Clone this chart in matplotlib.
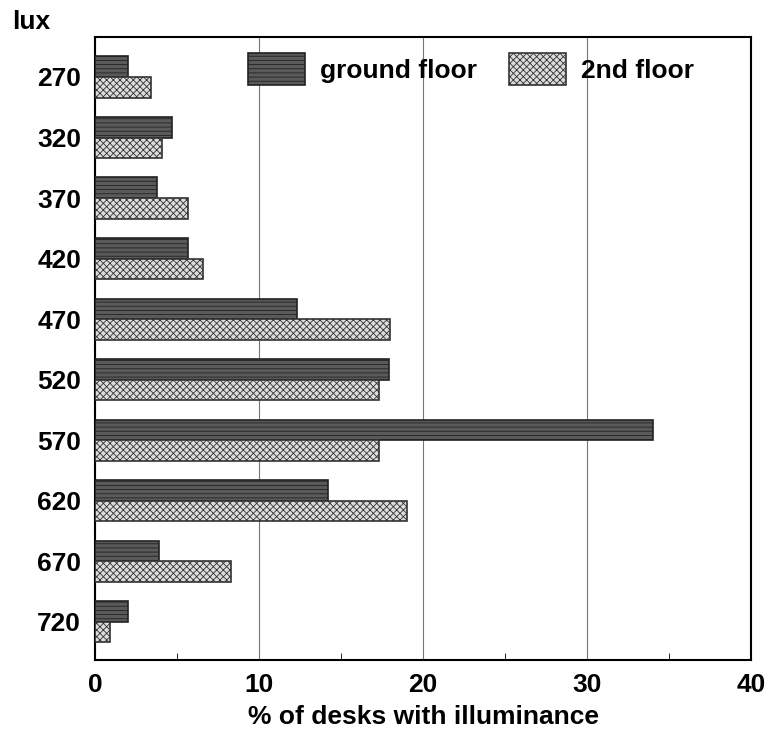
import numpy as np
import matplotlib
matplotlib.use("Agg")
import matplotlib.pyplot as plt

# illuminance classes (lux) and share of desks (%)
lux = ["270", "320", "370", "420", "470", "520", "570", "620", "670", "720"]
ground_floor = [2.0, 4.7, 3.8, 5.7, 12.3, 17.9, 34.0, 14.2, 3.9, 2.0]
second_floor = [3.4, 4.1, 5.7, 6.6, 18.0, 17.3, 17.3, 19.0, 8.3, 0.9]

plt.rcParams['font.family'] = ['Liberation Sans', 'DejaVu Sans']
plt.rcParams['hatch.linewidth'] = 0.6

fig = plt.figure(figsize=(7.71, 7.30), dpi=100)
ax = fig.add_axes([95 / 771, 70 / 730, 656 / 771, 623 / 730])

y = np.arange(len(lux))
h = 0.34
fs = 19

ax.barh(y - h / 2, ground_floor, height=h, color='#5a5a5a', edgecolor='#222222',
        hatch='----', linewidth=1.2, label='ground floor', zorder=3)
ax.barh(y + h / 2, second_floor, height=h, color='#dcdcdc', edgecolor='#333333',
        hatch='xxxxx', linewidth=1.2, label='2nd floor', zorder=3)

ax.set_xlim(0, 40)
ax.set_ylim(len(lux) - 1 + 0.63, -0.66)
ax.set_xticks([0, 10, 20, 30, 40])
ax.set_xticks([5, 15, 25, 35], minor=True)
ax.set_yticks(y)
ax.set_yticklabels(lux)
ax.tick_params(axis='x', which='major', length=0, labelsize=fs, pad=9)
ax.tick_params(axis='x', which='minor', direction='in', length=5)
ax.tick_params(axis='y', length=0, labelsize=fs, pad=10)
for lbl in ax.get_xticklabels() + ax.get_yticklabels():
    lbl.set_fontweight('bold')

ax.grid(axis='x', which='major', color='#777777', linewidth=0.8, zorder=0)
for s in ax.spines.values():
    s.set_linewidth(1.5)

ax.set_xlabel('% of desks with illuminance', fontsize=fs, fontweight='bold', labelpad=6)
fig.text(12 / 771, 1 - 22 / 730, 'lux', fontsize=fs, fontweight='bold', va='center')

leg = ax.legend(loc='upper left', bbox_to_anchor=(0.233, 0.974), ncol=2, frameon=False,
                prop={'size': fs, 'weight': 'bold'}, handlelength=2.16, handleheight=1.5,
                columnspacing=1.2, handletextpad=0.57, borderpad=0, borderaxespad=0)

fig.savefig('out.png', dpi=100)
